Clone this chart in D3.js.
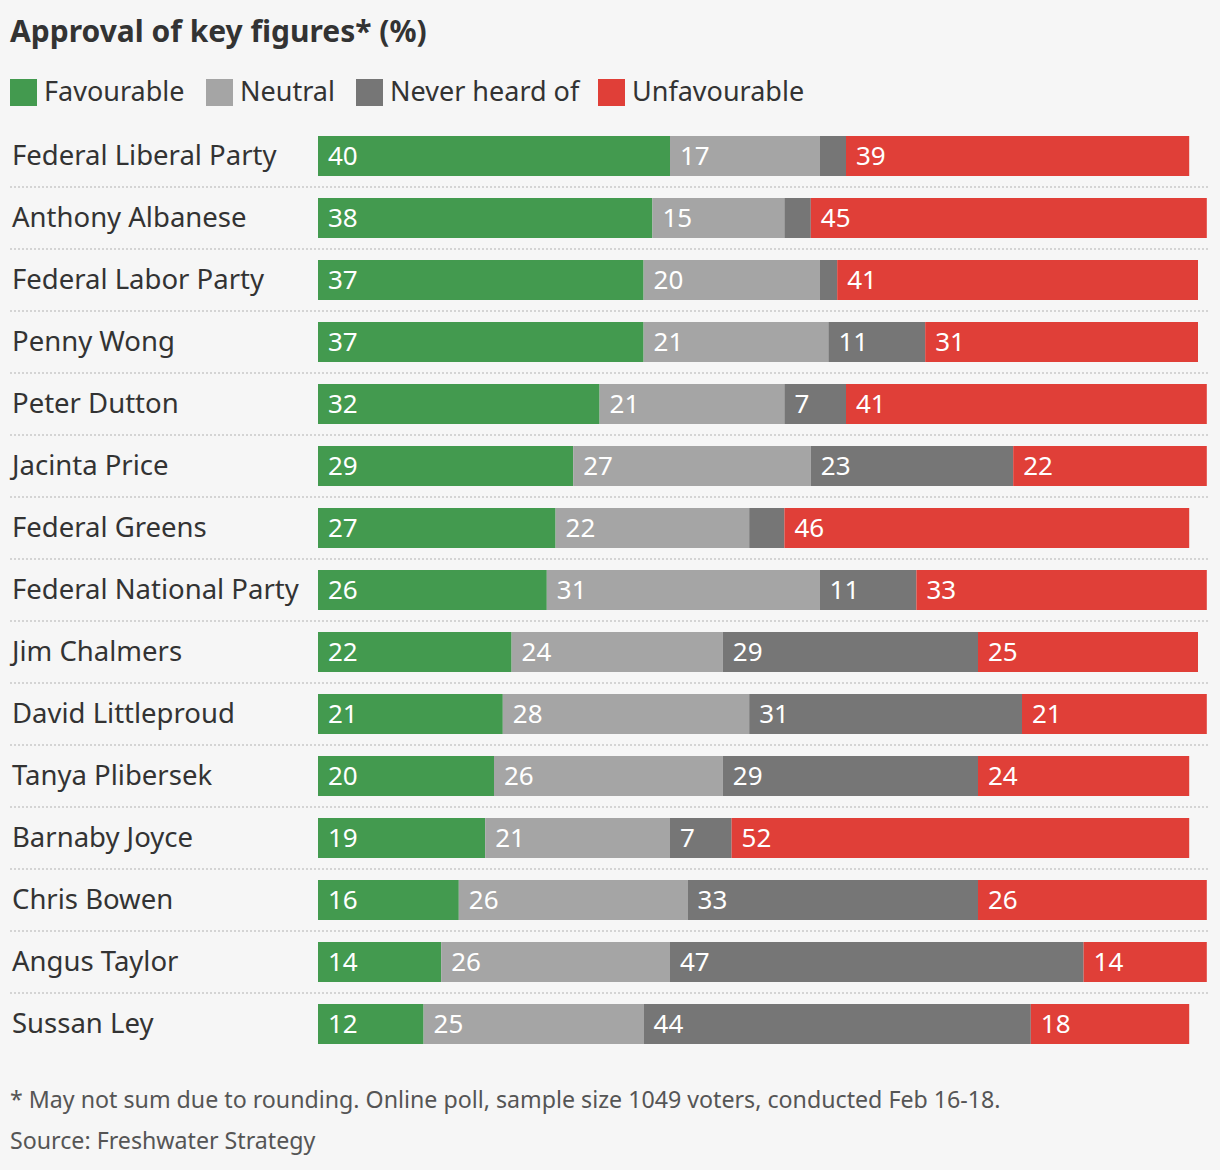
<!DOCTYPE html>
<html>
<head>
<meta charset="utf-8">
<script src="https://cdn.jsdelivr.net/npm/d3@7"></script>
<style>
  html, body { margin: 0; padding: 0; background: #f6f6f6; }
  svg { display: block; font-family: "Noto Sans", "Open Sans", sans-serif; }
</style>
</head>
<body>
<svg id="chart" width="1220" height="1170"></svg>
<script>
const categories = [
  "Federal Liberal Party", "Anthony Albanese", "Federal Labor Party", "Penny Wong",
  "Peter Dutton", "Jacinta Price", "Federal Greens", "Federal National Party",
  "Jim Chalmers", "David Littleproud", "Tanya Plibersek", "Barnaby Joyce",
  "Chris Bowen", "Angus Taylor", "Sussan Ley"
];
const seriesNames = ["Favourable", "Neutral", "Never heard of", "Unfavourable"];
const favourable   = [40, 38, 37, 37, 32, 29, 27, 26, 22, 21, 20, 19, 16, 14, 12];
const neutral      = [17, 15, 20, 21, 21, 27, 22, 31, 24, 28, 26, 21, 26, 26, 25];
const neverHeard   = [3, 3, 2, 11, 7, 23, 4, 11, 29, 31, 29, 7, 33, 47, 44];
const unfavourable = [39, 45, 41, 31, 41, 22, 46, 33, 25, 21, 24, 52, 26, 14, 18];
const colors = ["#439a4f", "#a5a5a5", "#767676", "#e03f38"];

const svg = d3.select("#chart");
svg.append("rect").attr("width", 1220).attr("height", 1170).attr("fill", "#f6f6f6");

svg.append("text").attr("x", 10).attr("y", 42)
  .attr("font-size", 30).attr("font-weight", 700).attr("fill", "#333")
  .text("Approval of key figures* (%)");

// legend
const legendX = [10, 206, 356, 598];
const lg = svg.append("g");
seriesNames.forEach((n, i) => {
  lg.append("rect").attr("x", legendX[i]).attr("y", 79).attr("width", 27).attr("height", 27).attr("fill", colors[i]);
  lg.append("text").attr("x", legendX[i] + 34).attr("y", 101)
    .attr("font-size", 27).attr("fill", "#333").text(n);
});

const data = categories.map((c, i) => ({
  name: c,
  values: [favourable[i], neutral[i], neverHeard[i], unfavourable[i]]
}));

const x = d3.scaleLinear().domain([0, 100]).range([318, 1198]);
const y = d3.scaleBand().domain(categories).range([125, 1055])
  .paddingInner(0.355).paddingOuter(0.1775);

// separators
svg.append("g").selectAll("line").data(categories.slice(0, -1)).join("line")
  .attr("x1", 10).attr("x2", 1208)
  .attr("y1", d => y(d) + y.bandwidth() + (y.step() - y.bandwidth()) / 2)
  .attr("y2", d => y(d) + y.bandwidth() + (y.step() - y.bandwidth()) / 2)
  .attr("stroke", "#d4d4d4").attr("stroke-width", 2).attr("stroke-dasharray", "2,2");

const rows = svg.append("g").selectAll("g").data(data).join("g");

rows.append("text").attr("x", 12).attr("y", d => y(d.name) + y.bandwidth() / 2 + 9)
  .attr("font-size", 27.5).attr("fill", "#333").text(d => d.name);

rows.each(function(d) {
  let acc = 0;
  const segs = d.values.map((v, i) => { const s = { start: acc, v, i }; acc += v; return s; });
  const g = d3.select(this);
  g.selectAll("rect").data(segs).join("rect")
    .attr("x", s => x(s.start)).attr("width", s => x(s.start + s.v) - x(s.start))
    .attr("y", y(d.name)).attr("height", y.bandwidth())
    .attr("fill", s => colors[s.i]);
  g.selectAll("text.v").data(segs.filter(s => s.v >= 5)).join("text").attr("class", "v")
    .attr("x", s => x(s.start) + 10).attr("y", y(d.name) + y.bandwidth() / 2 + 9)
    .attr("font-size", 26).attr("fill", "#fff").text(s => s.v);
});

svg.append("text").attr("x", 10).attr("y", 1108).attr("font-size", 23.2).attr("fill", "#555")
  .text("* May not sum due to rounding. Online poll, sample size 1049 voters, conducted Feb 16-18.");
svg.append("text").attr("x", 10).attr("y", 1149).attr("font-size", 23.2).attr("fill", "#555")
  .text("Source: Freshwater Strategy");
</script>
</body>
</html>
